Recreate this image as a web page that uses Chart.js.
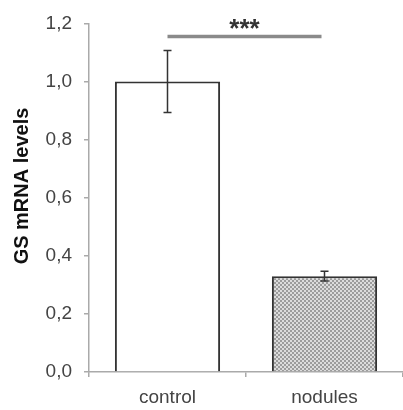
<!DOCTYPE html>
<html>
<head>
<meta charset="utf-8">
<script src="https://cdn.jsdelivr.net/npm/chart.js@4"></script>
<style>
    body { margin: 0; background: #fff; }
    #chart { display: block; }
</style>
</head>
<body>
<canvas id="chart" width="403" height="410"></canvas>
<script>
const categories = ['control', 'nodules'];
const means = [1.0, 0.33];
const errors = [0.107, 0.017];
const yTicks = [0, 0.2, 0.4, 0.6, 0.8, 1.0, 1.2];
const sigPair = [0, 1];
const sigLevel = 1.155;
const sigLabel = '***';
const yTitle = 'GS mRNA levels';

const FONT = '"Liberation Sans", Arial, sans-serif';

function makeDither() {
    const c = document.createElement('canvas');
    c.width = 4;
    c.height = 4;
    const g = c.getContext('2d');
    g.fillStyle = '#dcdcdc';
    g.fillRect(0, 0, 4, 4);
    g.fillStyle = '#9c9c9c';
    g.fillRect(0, 0, 2, 2);
    g.fillRect(2, 2, 2, 2);
    return g.createPattern(c, 'repeat');
}

const ctx = document.getElementById('chart').getContext('2d');
const dither = makeDither();

const extrasPlugin = {
    id: 'extras',
    afterDatasetsDraw(chart) {
        const c = chart.ctx;
        const y = chart.scales.y;
        const bars = chart.getDatasetMeta(0).data;

        // error bars
        c.save();
        c.strokeStyle = '#333';
        c.lineWidth = 1.5;
        bars.forEach((bar, i) => {
            const top = y.getPixelForValue(means[i] + errors[i]);
            const bot = y.getPixelForValue(means[i] - errors[i]);
            c.beginPath();
            c.moveTo(bar.x, top);
            c.lineTo(bar.x, bot);
            c.moveTo(bar.x - 4, top);
            c.lineTo(bar.x + 4, top);
            c.moveTo(bar.x - 4, bot);
            c.lineTo(bar.x + 4, bot);
            c.stroke();
        });

        // significance line
        const ly = y.getPixelForValue(sigLevel);
        const x1 = bars[sigPair[0]].x;
        const x2 = bars[sigPair[1]].x - 3;
        c.strokeStyle = '#8a8a8a';
        c.lineWidth = 3.5;
        c.beginPath();
        c.moveTo(x1, ly);
        c.lineTo(x2, ly);
        c.stroke();
        c.fillStyle = '#333';
        c.font = 'bold 26px ' + FONT;
        c.textAlign = 'center';
        c.textBaseline = 'alphabetic';
        c.fillText(sigLabel, (x1 + x2) / 2, ly + 1);

        // y title
        c.translate(22, 186);
        c.rotate(-Math.PI / 2);
        c.textBaseline = 'middle';
        c.fillStyle = '#111';
        c.font = 'bold 20px ' + FONT;
        c.fillText(yTitle, 0, 0);
        c.restore();
    }
};

new Chart(ctx, {
    type: 'bar',
    data: {
        labels: categories,
        datasets: [{
            data: means,
            backgroundColor: ['#ffffff', dither],
            borderColor: '#333',
            borderWidth: 2,
            barPercentage: 0.67,
            categoryPercentage: 1
        }]
    },
    options: {
        responsive: false,
        animation: false,
        layout: { padding: { top: 20, left: 0, right: 0, bottom: 0 } },
        plugins: { legend: { display: false }, tooltip: { enabled: false } },
        scales: {
            x: {
                offset: true,
                grid: { offset: true, drawOnChartArea: false, drawTicks: true, tickLength: 5, color: '#aaa', lineWidth: 1.5 },
                border: { display: true, color: '#aaa', width: 1.5 },
                ticks: { color: '#444', font: { family: FONT, size: 19 }, padding: 9 },
                afterFit(scale) { scale.height = 38; }
            },
            y: {
                min: 0,
                max: 1.2,
                afterBuildTicks(scale) { scale.ticks = yTicks.map(v => ({ value: v })); },
                grid: { drawOnChartArea: false, drawTicks: true, tickLength: 5, color: '#aaa', lineWidth: 1.5 },
                border: { display: true, color: '#aaa', width: 1.5 },
                ticks: {
                    color: '#444',
                    font: { family: FONT, size: 19 },
                    padding: 12,
                    callback: v => v.toFixed(1).replace('.', ',')
                },
                afterFit(scale) { scale.width = 89; }
            }
        }
    },
    plugins: [extrasPlugin]
});
</script>
</body>
</html>
